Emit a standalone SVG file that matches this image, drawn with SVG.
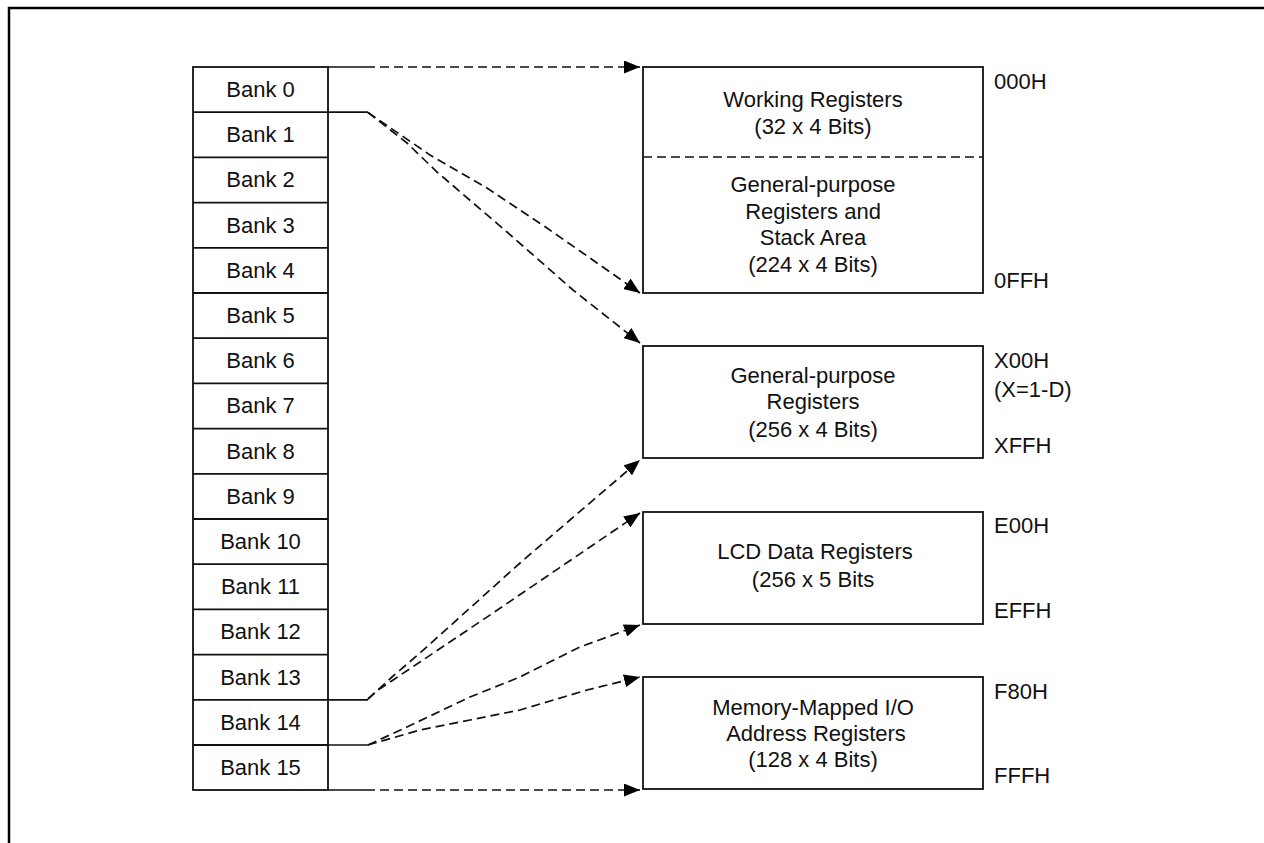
<svg xmlns="http://www.w3.org/2000/svg" width="1264" height="843" viewBox="0 0 1264 843">
<defs>
<marker id="ah" markerUnits="userSpaceOnUse" markerWidth="17" markerHeight="13" refX="16" refY="6.5" orient="auto">
<path d="M0,0 L16,6.5 L0,13 z" fill="#000"/>
</marker>
<style>
.t{font-family:"Liberation Sans",Arial,sans-serif;font-size:22px;fill:#111;}
.c{text-anchor:middle;}
.box{fill:#fff;stroke:#111;stroke-width:1.8;}
.sol{fill:none;stroke:#111;stroke-width:1.7;}
.dash{fill:none;stroke:#111;stroke-width:1.7;stroke-dasharray:9 5;}
.arr{marker-end:url(#ah);}
</style>
</defs>
<rect width="1264" height="843" fill="#fff"/>
<path d="M9,843 L9,8 L1264,8" fill="none" stroke="#000" stroke-width="2.5"/>

<g id="banks">
<rect class="box" x="193" y="67" width="135" height="723"/>
<g stroke="#111" stroke-width="1.8">
<line x1="193" y1="112.2" x2="328" y2="112.2"/>
<line x1="193" y1="157.4" x2="328" y2="157.4"/>
<line x1="193" y1="202.6" x2="328" y2="202.6"/>
<line x1="193" y1="247.8" x2="328" y2="247.8"/>
<line x1="193" y1="293" x2="328" y2="293"/>
<line x1="193" y1="338.2" x2="328" y2="338.2"/>
<line x1="193" y1="383.4" x2="328" y2="383.4"/>
<line x1="193" y1="428.6" x2="328" y2="428.6"/>
<line x1="193" y1="473.8" x2="328" y2="473.8"/>
<line x1="193" y1="519" x2="328" y2="519"/>
<line x1="193" y1="564.2" x2="328" y2="564.2"/>
<line x1="193" y1="609.4" x2="328" y2="609.4"/>
<line x1="193" y1="654.6" x2="328" y2="654.6"/>
<line x1="193" y1="699.8" x2="328" y2="699.8"/>
<line x1="193" y1="745" x2="328" y2="745"/>
</g>
<g class="t c">
<text x="260.5" y="97">Bank 0</text>
<text x="260.5" y="142">Bank 1</text>
<text x="260.5" y="187">Bank 2</text>
<text x="260.5" y="233">Bank 3</text>
<text x="260.5" y="278">Bank 4</text>
<text x="260.5" y="323">Bank 5</text>
<text x="260.5" y="368">Bank 6</text>
<text x="260.5" y="413">Bank 7</text>
<text x="260.5" y="459">Bank 8</text>
<text x="260.5" y="504">Bank 9</text>
<text x="260.5" y="549">Bank 10</text>
<text x="260.5" y="594">Bank 11</text>
<text x="260.5" y="639">Bank 12</text>
<text x="260.5" y="685">Bank 13</text>
<text x="260.5" y="730">Bank 14</text>
<text x="260.5" y="775">Bank 15</text>
</g>
</g>

<g id="box-working">
<rect class="box" x="643" y="67" width="340" height="226"/>
<line x1="643" y1="157" x2="983" y2="157" class="dash"/>
<g class="t c">
<text x="813" y="107">Working Registers</text>
<text x="813" y="134">(32 x 4 Bits)</text>
<text x="813" y="192">General-purpose</text>
<text x="813" y="219">Registers and</text>
<text x="813" y="245">Stack Area</text>
<text x="813" y="272">(224 x 4 Bits)</text>
</g>
<text class="t" x="994" y="89">000H</text>
<text class="t" x="994" y="288">0FFH</text>
</g>

<g id="box-general">
<rect class="box" x="643" y="346" width="340" height="112"/>
<g class="t c">
<text x="813" y="383">General-purpose</text>
<text x="813" y="409">Registers</text>
<text x="813" y="437">(256 x 4 Bits)</text>
</g>
<text class="t" x="994" y="368">X00H</text>
<text class="t" x="994" y="397">(X=1-D)</text>
<text class="t" x="994" y="453">XFFH</text>
</g>

<g id="box-lcd">
<rect class="box" x="643" y="512" width="340" height="112"/>
<g class="t c">
<text x="815" y="559">LCD Data Registers</text>
<text x="813" y="587">(256 x 5 Bits</text>
</g>
<text class="t" x="994" y="533">E00H</text>
<text class="t" x="994" y="618">EFFH</text>
</g>

<g id="box-io">
<rect class="box" x="643" y="677" width="340" height="112"/>
<g class="t c">
<text x="813" y="715">Memory-Mapped I/O</text>
<text x="816" y="741">Address Registers</text>
<text x="813" y="767">(128 x 4 Bits)</text>
</g>
<text class="t" x="994" y="699">F80H</text>
<text class="t" x="994" y="783">FFFH</text>
</g>

<g id="connectors">
<line class="sol" x1="328" y1="67" x2="366" y2="67"/>
<line class="sol" x1="328" y1="112.2" x2="368" y2="112.2"/>
<line class="sol" x1="328" y1="699.8" x2="368" y2="699.8"/>
<line class="sol" x1="328" y1="745" x2="368" y2="745"/>
<line class="sol" x1="328" y1="790" x2="366" y2="790"/>
<path class="dash arr" d="M366,67 L640,67"/>
<path class="dash arr" d="M366,790 L640,790"/>
<path class="dash arr" d="M368,112.5 L430,155 L487,188 L547,228 L640,293"/>
<path class="dash arr" d="M368,112.5 L407,143 L437,172 L507,232 L573,290 L640,343"/>
<path class="dash arr" d="M368,699 L392,677 L420,653 L520,563 L570,520 L640,460"/>
<path class="dash arr" d="M368,699 L378,690 L420,662 L493,613 L590,547 L640,513"/>
<path class="dash arr" d="M368,745 L407,727 L470,697 L520,677 L580,647 L640,625"/>
<path class="dash arr" d="M368,745 L420,730 L470,720 L520,710 L587,690 L640,677"/>
</g>
</svg>
